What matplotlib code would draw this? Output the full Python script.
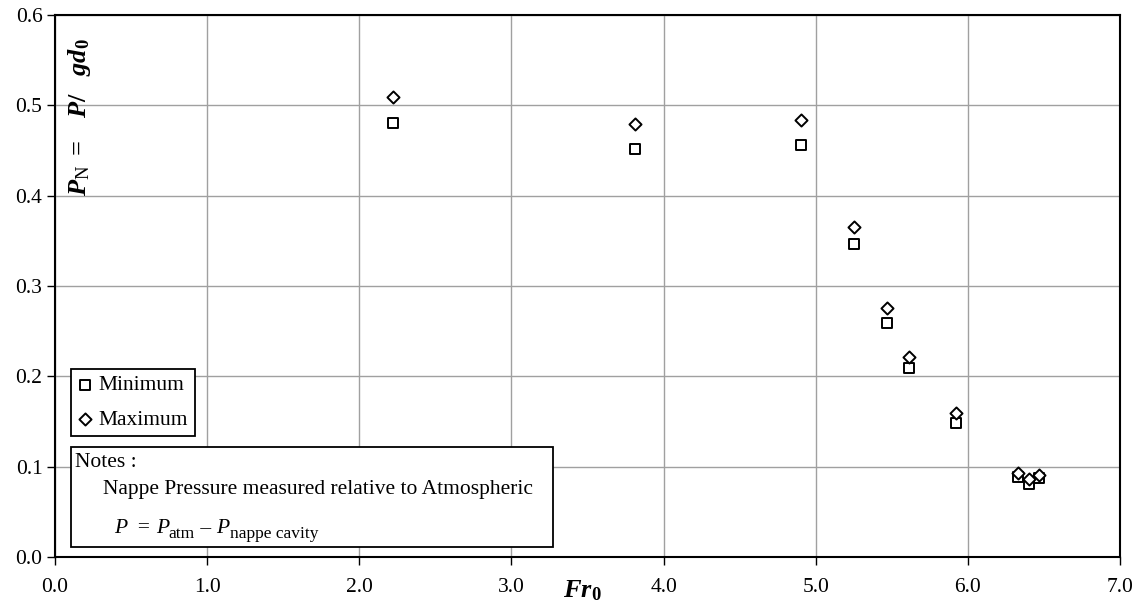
import matplotlib
matplotlib.use('Agg')
import matplotlib.pyplot as plt
from matplotlib.patches import Rectangle

plt.rcParams['font.family'] = ['Liberation Serif', 'DejaVu Serif']
plt.rcParams['mathtext.fontset'] = 'custom'
plt.rcParams['mathtext.rm'] = 'Liberation Serif'
plt.rcParams['mathtext.it'] = 'Liberation Serif:italic'
plt.rcParams['mathtext.bf'] = 'Liberation Serif:bold'
plt.rcParams['mathtext.bfit'] = 'Liberation Serif:italic:bold'

# Froude number and nappe pressure readings
fr0 = [2.22, 3.81, 4.90, 5.25, 5.47, 5.61, 5.92, 6.33, 6.40, 6.47]
p_min = [0.480, 0.452, 0.456, 0.347, 0.259, 0.209, 0.148, 0.089, 0.081, 0.087]
p_max = [0.509, 0.479, 0.484, 0.365, 0.276, 0.221, 0.159, 0.093, 0.086, 0.091]

xticks = [0, 1, 2, 3, 4, 5, 6, 7]
yticks = [0.0, 0.1, 0.2, 0.3, 0.4, 0.5, 0.6]

fig = plt.figure(figsize=(11.38, 6.04), dpi=100)
ax = fig.add_axes([0.0483, 0.0778, 0.9359, 0.8974])

ax.scatter(fr0, p_min, marker='s', s=50, facecolors='white', edgecolors='black',
           linewidths=1.4, zorder=3, label='Minimum')
ax.scatter(fr0, p_max, marker='D', s=38, facecolors='white', edgecolors='black',
           linewidths=1.4, zorder=3, label='Maximum')

ax.set_xlim(0, 7)
ax.set_ylim(0, 0.6)
ax.set_xticks(xticks)
ax.set_yticks(yticks)
ax.set_xticklabels(['%.1f' % v for v in xticks])
ax.set_yticklabels(['%.1f' % v for v in yticks])
ax.tick_params(direction='out', length=6, width=1, labelsize=15.5)
ax.tick_params(axis='x', pad=9)
ax.tick_params(axis='y', pad=3)
ax.grid(True, color='#a0a0a0', linewidth=1)
ax.set_axisbelow(True)
for sp in ax.spines.values():
    sp.set_linewidth(1.5)

# legend
leg = ax.legend(loc='upper left', bbox_to_anchor=(0.015, 0.347), fontsize=15.5,
                frameon=True, fancybox=False, edgecolor='black', framealpha=1,
                handletextpad=0.3, borderpad=0.3, labelspacing=0.65,
                handlelength=0.7, borderaxespad=0)
leg.get_frame().set_linewidth(1.3)

# notes box
ax.add_patch(Rectangle((0.105, 0.011), 3.17, 0.111, transform=ax.transData,
                       facecolor='white', edgecolor='black', linewidth=1.3, zorder=4))
ax.text(0.13, 0.105, 'Notes :', fontsize=15.5, va='center', zorder=5)
ax.text(0.315, 0.0745, 'Nappe Pressure measured relative to Atmospheric', fontsize=15.5,
        va='center', zorder=5)

# P = P_atm - P_nappe cavity, built piece by piece
pieces = [('P', 'italic', 15.5, 0), ('  = ', 'normal', 15.5, 0), ('P', 'italic', 15.5, 0),
          ('atm', 'normal', 12.5, -3), (' \u2013 ', 'normal', 15.5, 0), ('P', 'italic', 15.5, 0),
          ('nappe cavity', 'normal', 12.5, -3)]
prev = ax.text(0.39, 0.027, pieces[0][0], style=pieces[0][1], fontsize=pieces[0][2],
               va='baseline', zorder=5)
for txt, st, fs, dy in pieces[1:]:
    prev = ax.annotate(txt, xy=(1, 0), xycoords=prev, xytext=(0, dy),
                       textcoords='offset points', style=st, fontsize=fs,
                       va='bottom', ha='left', zorder=5)
    if dy != 0:
        # next piece should sit back on the main baseline
        prev = ax.annotate('', xy=(1, 0), xycoords=prev, xytext=(0, -dy),
                           textcoords='offset points', fontsize=fs, va='bottom', zorder=5)

# axis titles
fig.text(0.070, 0.806, r'$\mathbfit{P}_{\mathrm{N}}\ \mathbf{=}\ \ \ \mathbfit{P}\mathbf{/}\ \ \ \mathbfit{gd}_{\mathbf{0}}$',
         fontsize=19, rotation=90, ha='center', va='center')
fig.text(0.512, 0.022, r'$\mathbfit{Fr}_{\mathbf{0}}$', fontsize=19, ha='center', va='center')

fig.savefig('out.png', dpi=100)
